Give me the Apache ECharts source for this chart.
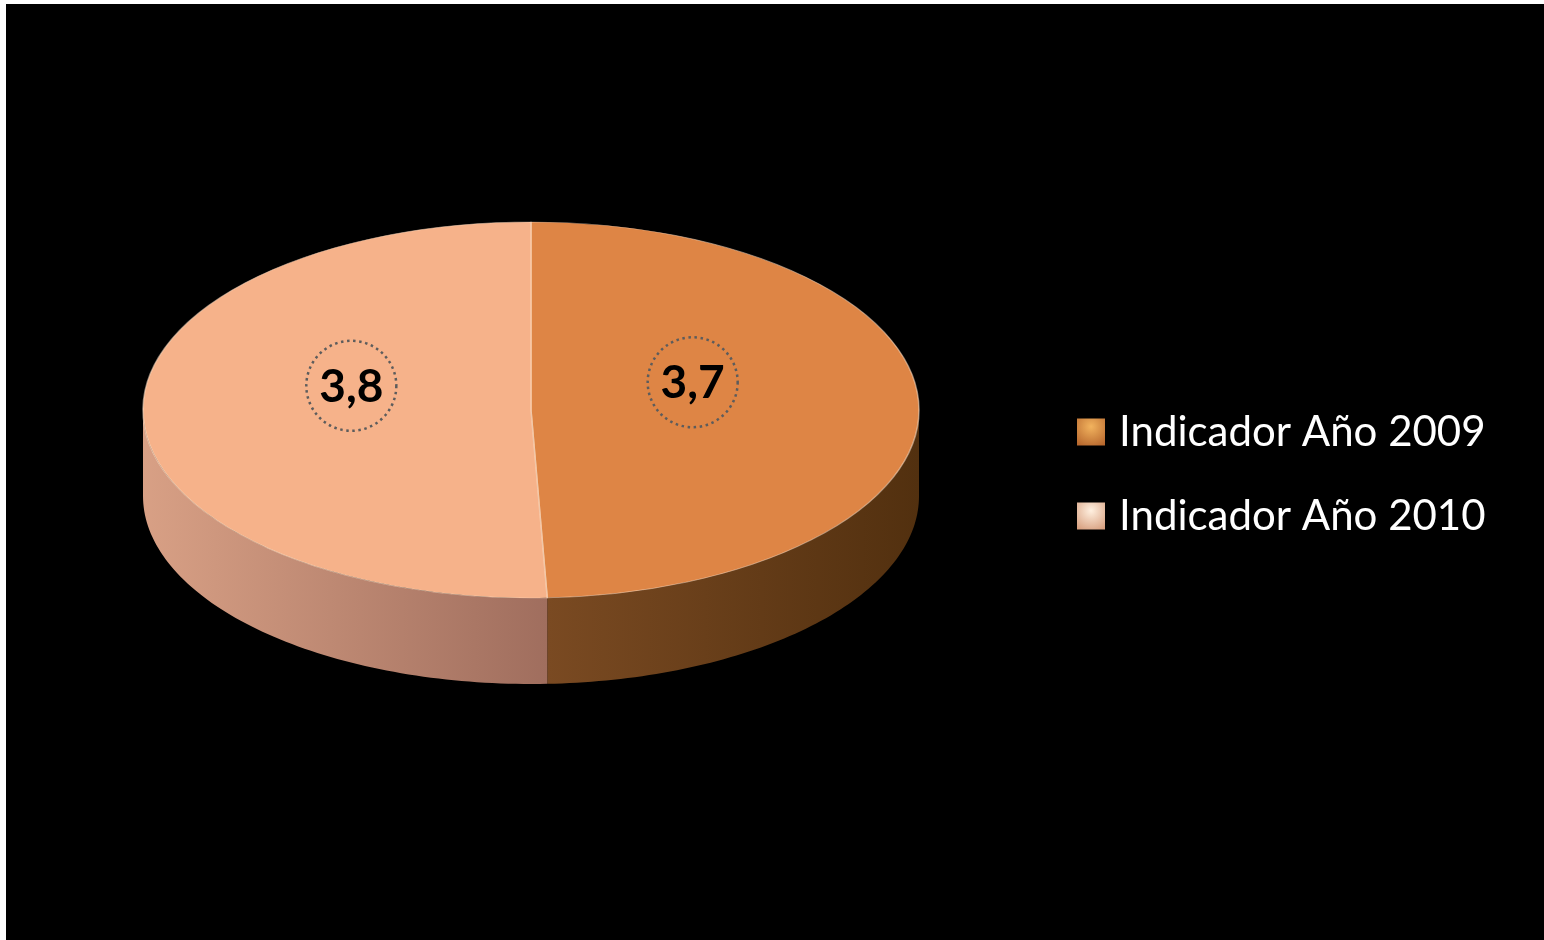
<!DOCTYPE html>
<html>
<head>
<meta charset="utf-8">
<script src="https://cdn.jsdelivr.net/npm/echarts@6/dist/echarts.min.js"></script>
<style>
html,body{margin:0;padding:0;background:#000;}
#c{width:1544px;height:940px;}
</style>
</head>
<body>
<div id="c"></div>
<script>
const categories = ['Indicador Año 2009', 'Indicador Año 2010'];
const values = [3.7, 3.8];
const valueLabels = ['3,7', '3,8'];
const topColors = ['#DE8545', '#F6B28A'];
const sideColors = [['#7A4A22', '#52300F'], ['#D8A085', '#A06E5E']];

const chart = echarts.init(document.getElementById('c'));
const total = values.reduce((a, b) => a + b, 0);
const G = { cx: 531, cy: 410, rx: 388, ry: 188, depth: 86 };

function pt(theta, dy) {
  return [G.cx + G.rx * Math.sin(theta), G.cy - G.ry * Math.cos(theta) + (dy || 0)];
}

function makeRender(idx) {
  return function (params, api) {
    const v = api.value(0);
    let before = 0;
    for (let k = 0; k < idx; k++) before += values[k];
    const a0 = before / total * Math.PI * 2;
    const a1 = a0 + v / total * Math.PI * 2;
    const children = [];
    const s0 = Math.max(a0, Math.PI / 2), s1 = Math.min(a1, Math.PI * 1.5);
    if (s1 > s0) {
      const pts = [];
      const n = 80;
      for (let i = 0; i <= n; i++) pts.push(pt(s0 + (s1 - s0) * i / n, 0));
      for (let i = n; i >= 0; i--) pts.push(pt(s0 + (s1 - s0) * i / n, G.depth));
      const xs = pts.map(p => p[0]);
      const xmin = Math.min.apply(null, xs), xmax = Math.max.apply(null, xs);
      children.push({
        type: 'polygon', z2: 1,
        shape: { points: pts },
        style: {
          fill: {
            type: 'linear', global: true, x: xmin, y: 0, x2: xmax, y2: 0,
            colorStops: [{ offset: 0, color: sideColors[idx][0] }, { offset: 1, color: sideColors[idx][1] }]
          }
        }
      });
    }
    children.push({
      type: 'group', x: G.cx, y: G.cy, scaleY: G.ry / G.rx,
      children: [{
        type: 'sector', z2: 5,
        shape: { cx: 0, cy: 0, r0: 0, r: G.rx, startAngle: a0 - Math.PI / 2, endAngle: a1 - Math.PI / 2, clockwise: true },
        style: { fill: topColors[idx], stroke: 'rgba(255,225,200,0.55)', lineWidth: 1.5, strokeNoScale: true }
      }]
    });
    const mid = (a0 + a1) / 2;
    const lx = G.cx - 9 + G.rx * 0.44 * Math.sin(mid);
    const ly = G.cy - G.ry * 0.45 * Math.cos(mid) - 26;
    children.push({
      type: 'circle', z2: 10,
      shape: { cx: lx, cy: ly, r: 45 },
      style: { fill: 'none', stroke: '#5c5c5c', lineWidth: 2.5, lineDash: [2.5, 3.6] }
    });
    children.push({
      type: 'text', z2: 11, x: lx, y: ly + 1,
      style: { text: valueLabels[idx], fill: '#000', font: 'bold 46px Lato', align: 'center', verticalAlign: 'middle' }
    });
    return { type: 'group', children: children };
  };
}

const legendIcon = (c1, c2) => ({
  type: 'radial', x: 0.5, y: 0.3, r: 0.8,
  colorStops: [{ offset: 0, color: c1 }, { offset: 1, color: c2 }]
});

chart.setOption({
  backgroundColor: '#000',
  animation: false,
  legend: {
    orient: 'vertical', left: 1072, top: 405,
    itemWidth: 28, itemHeight: 27, itemGap: 40,
    icon: 'rect',
    textStyle: { color: '#fff', fontSize: 42, fontFamily: 'Lato', lineHeight: 44, padding: [0, 0, 0, 9] },
    data: [
      { name: categories[0], itemStyle: { color: legendIcon('#F2B35E', '#B8682E') } },
      { name: categories[1], itemStyle: { color: legendIcon('#FFF0E0', '#D8A080') } }
    ]
  },
  graphic: [
    { type: 'rect', shape: { x: 0, y: 0, width: 6, height: 940 }, style: { fill: '#fff' }, z: 100 },
    { type: 'rect', shape: { x: 0, y: 0, width: 1544, height: 4 }, style: { fill: '#fff' }, z: 100 }
  ],
  series: categories.map((name, i) => ({
    type: 'custom', name: name, coordinateSystem: 'none',
    renderItem: makeRender(i),
    itemStyle: { color: topColors[i] },
    data: [[values[i]]]
  }))
});
</script>
</body>
</html>
